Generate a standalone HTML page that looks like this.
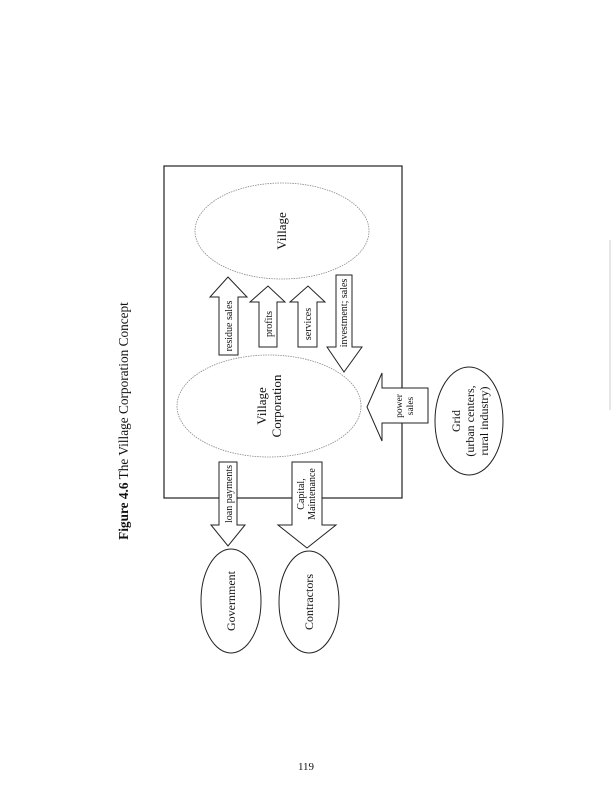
<!DOCTYPE html>
<html><head><meta charset="utf-8"><style>
html,body{margin:0;padding:0;background:#fff;}
svg{display:block;}
text{font-family:"Liberation Serif",serif;fill:#111;}
</style></head><body>
<svg width="612" height="792" viewBox="0 0 612 792" xmlns="http://www.w3.org/2000/svg">
<line x1="610" y1="240" x2="610" y2="410" stroke="#ccc" stroke-width="1"/>
<g transform="translate(128,421) rotate(-90)"><text x="0" y="0" text-anchor="middle" font-size="13.3"><tspan font-weight="bold">Figure 4.6</tspan>  The Village Corporation Concept</text></g>
<rect x="164" y="166" width="238" height="332" fill="none" stroke="#222" stroke-width="1.2"/>
<ellipse cx="282" cy="231" rx="87" ry="48" fill="#fff" stroke="#888" stroke-width="0.8" stroke-dasharray="1.5,1"/>
<g transform="translate(286,231) rotate(-90)"><text text-anchor="middle" font-size="13">Village</text></g>
<ellipse cx="269" cy="406" rx="92" ry="51" fill="#fff" stroke="#888" stroke-width="0.8" stroke-dasharray="1.5,1"/>
<g transform="translate(266,406) rotate(-90)"><text text-anchor="middle" font-size="13">Village</text></g>
<g transform="translate(281,406) rotate(-90)"><text text-anchor="middle" font-size="13">Corporation</text></g>
<g fill="#fff" stroke="#222" stroke-width="1">
<polygon points="219,355 219,297 210,297 228,277 247,297 238,297 238,355"/>
<polygon points="259,347 259,302 250,302 268,286 285,302 277,302 277,347"/>
<polygon points="298,347 298,302 290,302 308,286 325,302 317,302 317,347"/>
<polygon points="336,275 352,275 352,347 362,347 344,372 327,347 336,347"/>
<polygon points="428,388 428,423 382,423 382,441 367,407 382,373 382,388"/>
<polygon points="219,462 237,462 237,525 245,525 228,546 211,525 219,525"/>
<polygon points="292,462 322,462 322,525 336,525 307,548 278,525 292,525"/>
</g>
<g transform="translate(232,326) rotate(-90)"><text text-anchor="middle" font-size="10">residue sales</text></g>
<g transform="translate(272,324) rotate(-90)"><text text-anchor="middle" font-size="10">profits</text></g>
<g transform="translate(311,324) rotate(-90)"><text text-anchor="middle" font-size="10">services</text></g>
<g transform="translate(347,313) rotate(-90)"><text text-anchor="middle" font-size="10">investment; sales</text></g>
<g transform="translate(402,406) rotate(-90)"><text text-anchor="middle" font-size="9.5">power</text></g>
<g transform="translate(413,406) rotate(-90)"><text text-anchor="middle" font-size="9.5">sales</text></g>
<g transform="translate(232,494) rotate(-90)"><text text-anchor="middle" font-size="10">loan payments</text></g>
<g transform="translate(304,494) rotate(-90)"><text text-anchor="middle" font-size="10">Capital,</text></g>
<g transform="translate(315,494) rotate(-90)"><text text-anchor="middle" font-size="10">Maintenance</text></g>
<ellipse cx="469" cy="421" rx="34" ry="54" fill="#fff" stroke="#222" stroke-width="1"/>
<g transform="translate(460,421) rotate(-90)"><text text-anchor="middle" font-size="12">Grid</text></g>
<g transform="translate(474,421) rotate(-90)"><text text-anchor="middle" font-size="12">(urban centers,</text></g>
<g transform="translate(488,421) rotate(-90)"><text text-anchor="middle" font-size="12">rural industry)</text></g>
<ellipse cx="231" cy="601" rx="30" ry="52" fill="#fff" stroke="#222" stroke-width="1"/>
<g transform="translate(235,601) rotate(-90)"><text text-anchor="middle" font-size="12">Government</text></g>
<ellipse cx="309" cy="602" rx="30" ry="51" fill="#fff" stroke="#222" stroke-width="1"/>
<g transform="translate(313,602) rotate(-90)"><text text-anchor="middle" font-size="12">Contractors</text></g>
<text x="306" y="770" text-anchor="middle" font-size="11">119</text>
</svg>
</body></html>
